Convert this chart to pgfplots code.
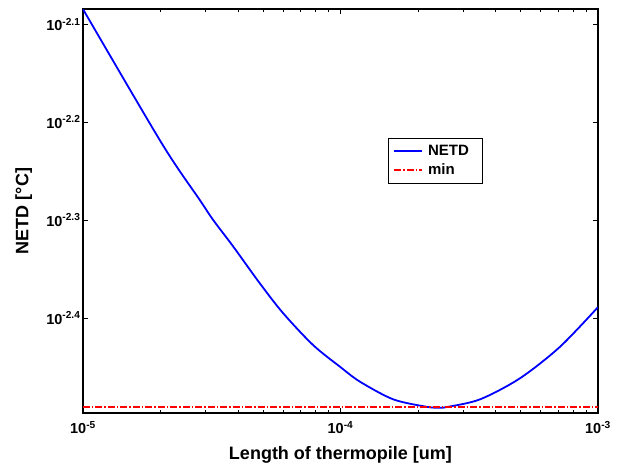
\documentclass[border=0pt]{standalone}
\usepackage{pgfplots}
\pgfplotsset{compat=1.18}
\usepackage{fontspec}
\setmainfont{Liberation Sans}
\newcommand\lt[1]{\bfseries 10\textsuperscript{#1}}
\begin{document}
\begin{tikzpicture}
\begin{axis}[
  name=ax,
  scale only axis,
  width=515pt, height=404pt,
  xmode=log, ymode=log,
  xmin=1e-5, xmax=1e-3,
  ymin=0.003185, ymax=0.00823,
  xtick={1e-5,1e-4,1e-3},
  xticklabels={\lt{-5},\lt{-4},\lt{-3}},
  ytick={0.0079433,0.0063096,0.0050119,0.0039811},
  yticklabels={\lt{-2.1},\lt{-2.2},\lt{-2.3},\lt{-2.4}},
  yminorticks=false,
  tick align=inside,
  tick pos=both,
  major tick length=5pt,
  minor tick length=3pt,
  every tick/.style={black, line width=0.8pt},
  axis line style={black, line width=2.2pt},
  ticklabel style={font=\fontsize{14.5}{16}\selectfont},
  xticklabel style={yshift=-5pt},
  yticklabel style={xshift=1pt},
  xlabel={\bfseries Length of thermopile [um]},
  ylabel={\bfseries NETD [°C]},
  label style={font=\fontsize{18}{20}\selectfont},
  xlabel style={at={(axis description cs:0.5,-0.104)}, anchor=center},
  ylabel style={at={(axis description cs:-0.115,0.5)}, anchor=center},
  legend style={at={(axis description cs:0.592,0.681)}, anchor=north west,
    draw=black, line width=0.8pt, font=\fontsize{15}{17}\selectfont\bfseries,
    inner xsep=5pt, inner ysep=5pt, row sep=3pt, column sep=3pt},
  legend cell align=left,
  legend image code/.code={\draw[#1, line width=1.8pt] (0pt,0pt) -- (28pt,0pt);},
]
\addplot[blue, line width=1.8pt, smooth] coordinates {
(1e-5,0.008228) (2.023e-5,0.006002) (2.844e-5,0.005253) (3.206e-5,0.005012)
(3.837e-5,0.004708) (4.864e-5,0.004319) (5.998e-5,0.004025) (7.834e-5,0.003736)
(1e-4,0.003548) (1.191e-4,0.003428) (1.603e-4,0.003289) (2.163e-4,0.003232)
(2.4e-4,0.003226) (2.582e-4,0.003230) (3.483e-4,0.003289) (4.977e-4,0.003456)
(7.112e-4,0.003721) (1e-3,0.004085)
};
\addlegendentry{NETD\hspace*{6pt}}
\addplot[red, line width=1.8pt, dash pattern=on 7pt off 2pt on 1.5pt off 2pt] coordinates {
(1e-5,0.003230) (1e-3,0.003230)
};
\addlegendentry{min}
\end{axis}
\pgfresetboundingbox
\path (ax.south west) ++(-83pt,-56pt) rectangle ++(618pt,469pt);
\end{tikzpicture}
\end{document}
